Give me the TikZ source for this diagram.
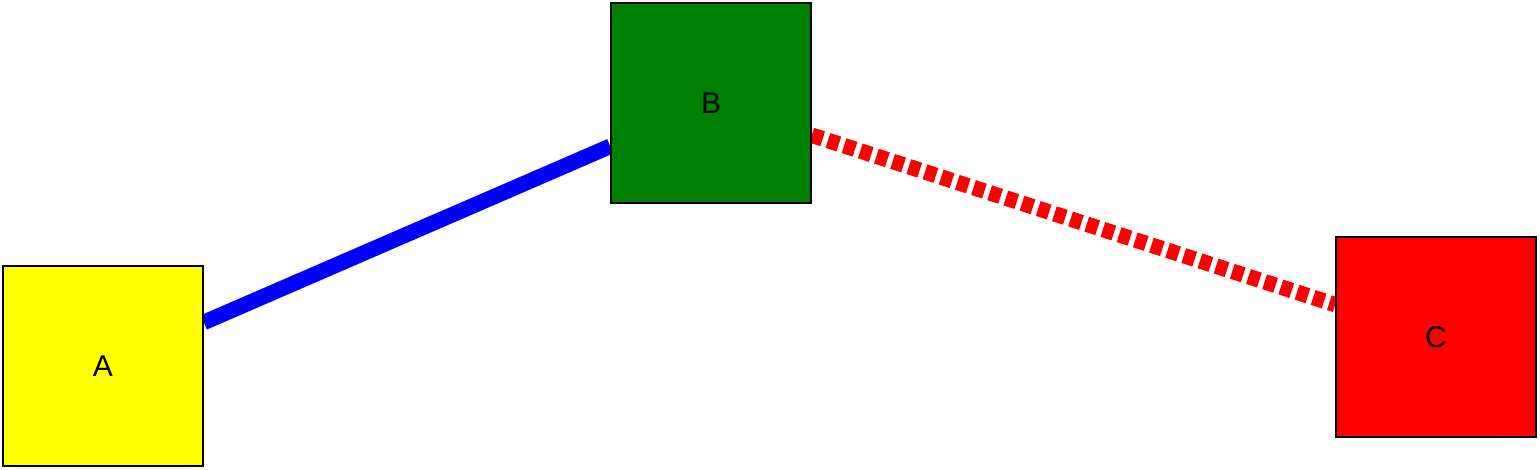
\documentclass[tikz,border=0pt]{standalone}
\usepackage{fontspec}
\setmainfont{Liberation Sans}
\usetikzlibrary{backgrounds}
\definecolor{boxyellow}{HTML}{FFFF00}
\definecolor{boxgreen}{HTML}{008000}
\definecolor{boxred}{HTML}{FF0000}
\definecolor{lineblue}{HTML}{0000FF}
\begin{document}
\begin{tikzpicture}[x=1pt,y=-1pt,
  box/.style={draw=black, line width=1.5pt, minimum width=200pt, minimum height=200pt, inner sep=0pt, font=\fontsize{30}{36}\selectfont},
  bluelink/.style={draw=lineblue, line width=15.5pt},
  redlink/.style={draw=boxred, line width=15.5pt, dash pattern=on 11.5pt off 5.5pt}]
\useasboundingbox (0,0) rectangle (1540,470);
\node[box, fill=boxyellow] (A) at (103,366) {A};
\node[box, fill=boxgreen] (B) at (711,103) {B};
\node[box, fill=boxred] (C) at (1436,337) {C};
\begin{scope}[on background layer]
\draw[bluelink] (A) -- (B);
\draw[redlink] (B) -- (C);
\end{scope}
\end{tikzpicture}
\end{document}
